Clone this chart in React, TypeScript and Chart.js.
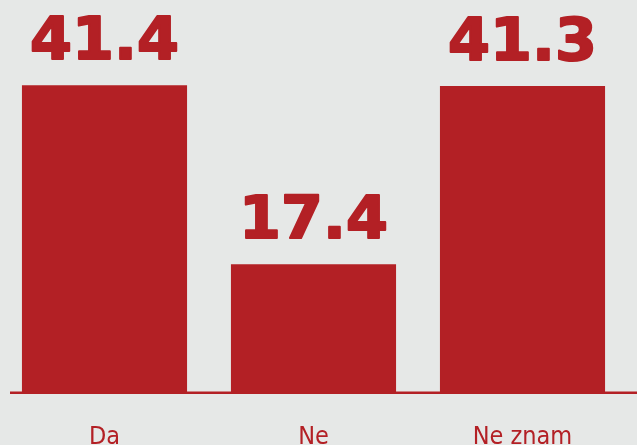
import React, { useEffect, useRef } from "react";
import { Chart, registerables } from "chart.js";

Chart.register(...registerables);

const categories = ["Da", "Ne", "Ne znam"];
const values = [41.4, 17.4, 41.3];
const valueLabels = ["41.4", "17.4", "41.3"];

const RED = "#b32025";
const BG = "#e6e8e7";

const bgPlugin = {
  id: "bgFill",
  beforeDraw(chart: any) {
    const { ctx, width, height } = chart;
    ctx.save();
    ctx.fillStyle = BG;
    ctx.fillRect(0, 0, width, height);
    ctx.restore();
  },
};

const axisLinePlugin = {
  id: "axisLine",
  afterDatasetsDraw(chart: any) {
    const { ctx, chartArea, width } = chart;
    ctx.save();
    ctx.strokeStyle = RED;
    ctx.lineWidth = 2.5;
    ctx.beginPath();
    ctx.moveTo(chartArea.left + 10, chartArea.bottom - 1.25);
    ctx.lineTo(width, chartArea.bottom - 1.25);
    ctx.stroke();
    ctx.restore();
  },
};

const valueLabelPlugin = {
  id: "valueLabels",
  afterDatasetsDraw(chart: any) {
    const { ctx } = chart;
    const meta = chart.getDatasetMeta(0);
    ctx.save();
    ctx.fillStyle = RED;
    ctx.strokeStyle = RED;
    ctx.lineWidth = 2;
    ctx.lineJoin = "round";
    ctx.font = "bold 58px 'DejaVu Sans'";
    ctx.textAlign = "center";
    ctx.textBaseline = "alphabetic";
    meta.data.forEach((bar: any, i: number) => {
      const sx = 1.04;
      ctx.save();
      ctx.translate(bar.x, bar.y - 26);
      ctx.scale(sx, 1);
      ctx.fillText(valueLabels[i], 0, 0);
      ctx.strokeText(valueLabels[i], 0, 0);
      ctx.restore();
    });
    ctx.restore();
  },
};

export default function App() {
  const ref = useRef<HTMLCanvasElement | null>(null);
  useEffect(() => {
    if (!ref.current) return;
    const chart = new Chart(ref.current, {
      type: "bar",
      data: {
        labels: categories,
        datasets: [
          {
            data: values,
            backgroundColor: RED,
            borderWidth: 0,
            categoryPercentage: 1,
            barPercentage: 0.79,
          },
        ],
      },
      options: {
        animation: false,
        responsive: false,
        maintainAspectRatio: false,
        layout: { padding: { top: 21, left: 0, right: 10, bottom: 0 } },
        plugins: {
          legend: { display: false },
          tooltip: { enabled: false },
        },
        scales: {
          y: {
            display: false,
            min: 0,
            max: 50,
          },
          x: {
            grid: { display: false, drawTicks: false },
            border: { display: false },
            ticks: {
              color: RED,
              padding: 28,
              font: { family: "'DejaVu Sans Condensed', 'DejaVu Sans'", size: 25, weight: "normal" },
            },
            afterFit: (s: any) => {
              s.height = 51;
            },
          },
        },
      },
      plugins: [bgPlugin, axisLinePlugin, valueLabelPlugin],
    });
    return () => chart.destroy();
  }, []);
  return (
    <canvas
      ref={ref}
      width={637}
      height={445}
      style={{ position: "absolute", left: 0, top: 0, width: 637, height: 445, display: "block" }}
    />
  );
}
